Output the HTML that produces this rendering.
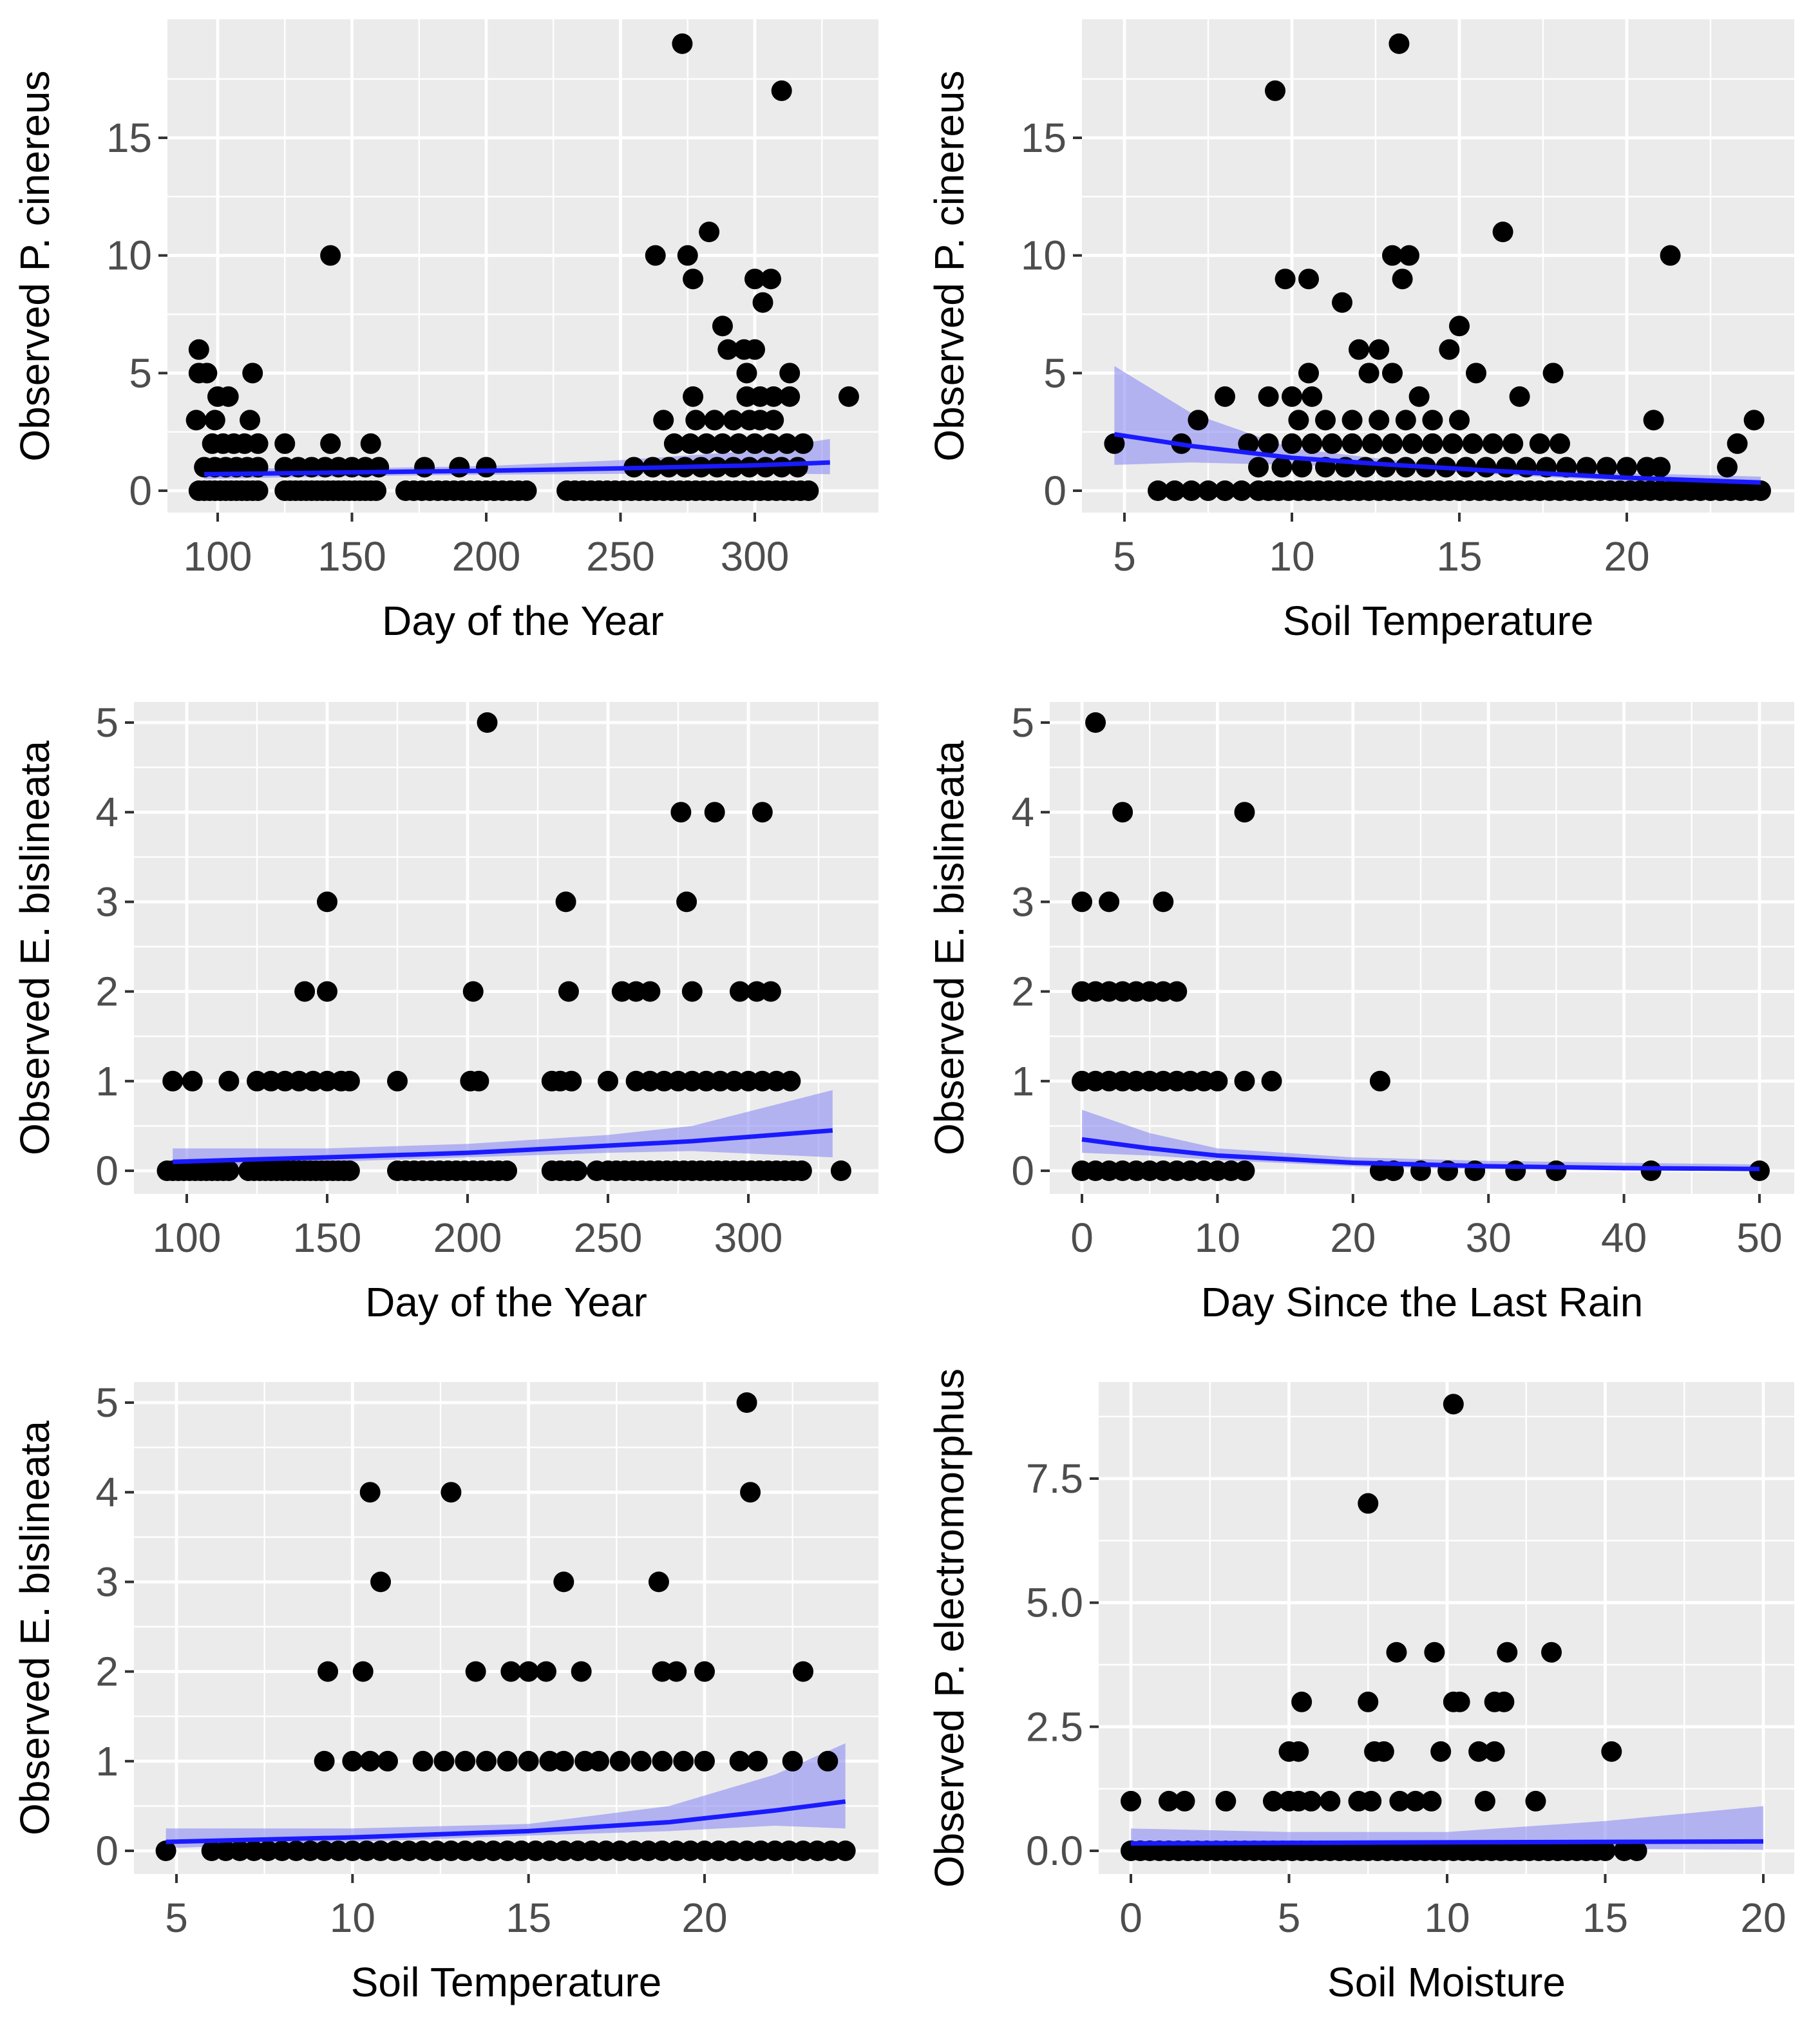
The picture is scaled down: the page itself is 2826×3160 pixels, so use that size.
<!DOCTYPE html>
<html><head><meta charset="utf-8"><style>
html,body{margin:0;padding:0;background:#fff;}
svg{display:block;font-family:"Liberation Sans",sans-serif;}
</style></head><body>
<svg id="chart" width="2826" height="3160" viewBox="0 0 1413 1580" xmlns="http://www.w3.org/2000/svg"></svg>
<script>
// ---- Panel 1: Day of year vs P. cinereus ----
const p1X = [93,95,97,99,101,103,105,107,109,111,113,115,125,127,129,131,133,135,137,139,141,143,145,147,149,151,153,155,157,159,170,173,176,179,182,185,188,191,194,197,200,203,206,209,212,215,230,233,236,239,242,245,248,251,254,257,260,263,266,269,272,275,278,281,284,287,290,293,296,299,302,305,308,311,314,317,320,
 95,99,103,107,111,115,125,130,135,140,145,150,155,160,177,190,200,255,262,268,274,280,286,292,298,304,310,316,
 98,102,106,110,115,125,142,157,270,276,282,288,294,300,306,312,318,
 92,99,112,266,278,285,292,298,302,307,
 100,104,277,297,302,307,313,335,
 93,96,113,297,313,
 93,290,296,300,
 288,303,
 277,300,306,
 263,275,142,
 283,273,310];
const p1Y = [0,0,0,0,0,0,0,0,0,0,0,0,0,0,0,0,0,0,0,0,0,0,0,0,0,0,0,0,0,0,0,0,0,0,0,0,0,0,0,0,0,0,0,0,0,0,0,0,0,0,0,0,0,0,0,0,0,0,0,0,0,0,0,0,0,0,0,0,0,0,0,0,0,0,0,0,0,
 1,1,1,1,1,1,1,1,1,1,1,1,1,1,1,1,1,1,1,1,1,1,1,1,1,1,1,1,
 2,2,2,2,2,2,2,2,2,2,2,2,2,2,2,2,2,
 3,3,3,3,3,3,3,3,3,3,
 4,4,4,4,4,4,4,4,
 5,5,5,5,5,
 6,6,6,6,
 7,8,
 9,9,9,
 10,10,10,
 11,19,17];
const p1FitX = [95,150,200,250,300,328];
const p1Fit = [0.7,0.78,0.85,0.95,1.08,1.2];
const p1Lo = [0.5,0.62,0.68,0.72,0.75,0.7];
const p1Hi = [0.95,0.95,1.05,1.3,1.7,2.2];

// ---- Panel 2: Soil temperature vs P. cinereus ----
const p2X = [6,6.5,7,7.5,8,8.5,9,9.3,9.6,9.9,10.2,10.5,10.8,11.1,11.4,11.7,12,12.3,12.6,12.9,13.2,13.5,13.8,14.1,14.4,14.7,15,15.3,15.6,15.9,16.2,16.5,16.8,17.1,17.4,17.7,18,18.3,18.6,18.9,19.2,19.5,19.8,20.1,20.4,20.7,21,21.3,21.6,21.9,22.2,22.5,22.8,23.1,23.4,23.7,24,
 9,9.7,10.3,11,11.6,12.2,12.8,13.4,14,14.6,15.2,15.8,16.4,17,17.6,18.2,18.8,19.4,20,20.6,21,23,
 9.3,10,10.6,11.2,11.8,12.4,13,13.6,14.2,14.8,15.4,16,16.6,17.4,18,23.3,
 4.7,6.7,8.7,
 10.2,11,11.8,12.6,13.4,14.2,15,20.8,23.8,7.2,
 8,9.3,10,10.6,13.8,16.8,
 10.5,12.3,13,15.5,17.8,
 12,12.6,14.7,
 15,11.5,9.8,10.5,13.3,
 13,13.5,21.3,16.3,9.5,13.2];
const p2Y = [0,0,0,0,0,0,0,0,0,0,0,0,0,0,0,0,0,0,0,0,0,0,0,0,0,0,0,0,0,0,0,0,0,0,0,0,0,0,0,0,0,0,0,0,0,0,0,0,0,0,0,0,0,0,0,0,0,
 1,1,1,1,1,1,1,1,1,1,1,1,1,1,1,1,1,1,1,1,1,1,
 2,2,2,2,2,2,2,2,2,2,2,2,2,2,2,2,
 2,2,2,
 3,3,3,3,3,3,3,3,3,3,
 4,4,4,4,4,4,
 5,5,5,5,5,
 6,6,6,
 7,8,9,9,9,
 10,10,10,11,17,19];
const p2FitX = [4.7,7,10,13,16,20,24];
const p2Fit = [2.4,1.9,1.4,1.1,0.85,0.55,0.35];
const p2Lo = [1.1,1.2,1.1,0.95,0.7,0.4,0.2];
const p2Hi = [5.3,3.3,1.8,1.3,1.0,0.75,0.6];

// ---- Panel 3: Day of year vs E. bislineata ----
const p3X = [93,95,97,99,101,103,105,107,109,111,113,115,122,124,126,128,130,132,134,136,138,140,142,144,146,148,150,152,154,156,158,175,178,181,184,187,190,193,196,199,202,205,208,211,214,230,233,236,239,246,250,253,256,259,262,265,268,271,274,277,280,283,286,289,292,295,298,301,304,307,310,313,316,319,333,
 95,102,115,125,130,135,140,145,150,155,158,175,201,204,230,233,237,250,260,265,270,275,280,285,290,295,300,305,310,315,
 142,150,202,236,255,260,265,280,297,303,308,
 150,235,278,
 276,288,305,
 207];
const p3Y = [0,0,0,0,0,0,0,0,0,0,0,0,0,0,0,0,0,0,0,0,0,0,0,0,0,0,0,0,0,0,0,0,0,0,0,0,0,0,0,0,0,0,0,0,0,0,0,0,0,0,0,0,0,0,0,0,0,0,0,0,0,0,0,0,0,0,0,0,0,0,0,0,0,0,0,
 1,1,1,1,1,1,1,1,1,1,1,1,1,1,1,1,1,1,1,1,1,1,1,1,1,1,1,1,1,1,
 2,2,2,2,2,2,2,2,2,2,2,
 3,3,3,
 4,4,4,
 5];
const p3FitX = [95,150,200,250,280,330];
const p3Fit = [0.1,0.15,0.2,0.28,0.33,0.45];
const p3Lo = [0.03,0.1,0.15,0.2,0.22,0.15];
const p3Hi = [0.25,0.25,0.3,0.4,0.5,0.9];

// ---- Panel 4: Days since last rain vs E. bislineata ----
const p4X = [0,1,2,3,4,5,6,7,8,9,10,11,12,22,23,25,27,29,32,35,42,50,
 0,1,2,3,4,5,6,7,8,9,10,12,14,22,
 0,1,2,3,4,5,6,7,
 0,2,6,
 3,12,
 1];
const p4Y = [0,0,0,0,0,0,0,0,0,0,0,0,0,0,0,0,0,0,0,0,0,0,
 1,1,1,1,1,1,1,1,1,1,1,1,1,1,
 2,2,2,2,2,2,2,2,
 3,3,3,
 4,4,
 5];
const p4FitX = [0,5,10,20,30,40,50];
const p4Fit = [0.35,0.25,0.17,0.09,0.05,0.03,0.02];
const p4Lo = [0.2,0.17,0.12,0.05,0.02,0.01,0.0];
const p4Hi = [0.68,0.42,0.25,0.15,0.11,0.09,0.07];

// ---- Panel 5: Soil temperature vs E. bislineata ----
const p5X = [4.7,6,6.4,6.8,7.2,7.6,8,8.4,8.8,9.2,9.6,10,10.4,10.8,11.2,11.6,12,12.4,12.8,13.2,13.6,14,14.4,14.8,15.2,15.6,16,16.4,16.8,17.2,17.6,18,18.4,18.8,19.2,19.6,20,20.4,20.8,21.2,21.6,22,22.4,22.8,23.2,23.6,24,
 9.2,10,10.5,11,12,12.6,13.2,13.8,14.4,15,15.6,16,16.6,17,17.6,18.2,18.8,19.4,20,21,21.5,22.5,23.5,
 9.3,10.3,13.5,14.5,15,15.5,16.5,18.8,19.2,20,22.8,
 10.8,16,18.7,
 10.5,12.8,21.3,
 21.2];
const p5Y = [0,0,0,0,0,0,0,0,0,0,0,0,0,0,0,0,0,0,0,0,0,0,0,0,0,0,0,0,0,0,0,0,0,0,0,0,0,0,0,0,0,0,0,0,0,0,0,
 1,1,1,1,1,1,1,1,1,1,1,1,1,1,1,1,1,1,1,1,1,1,1,
 2,2,2,2,2,2,2,2,2,2,2,
 3,3,3,
 4,4,4,
 5];
const p5FitX = [4.7,10,15,19,22,24];
const p5Fit = [0.1,0.15,0.22,0.32,0.45,0.55];
const p5Lo = [0.03,0.1,0.17,0.22,0.28,0.25];
const p5Hi = [0.25,0.25,0.3,0.5,0.85,1.2];

// ---- Panel 6: Soil moisture vs P. electromorphus ----
const p6X = [0,0.3,0.6,0.9,1.2,1.5,1.8,2.1,2.4,2.7,3,3.3,3.6,3.9,4.2,4.5,4.8,5.1,5.4,5.7,6,6.3,6.6,6.9,7.2,7.5,7.8,8.1,8.4,8.7,9,9.3,9.6,9.9,10.2,10.5,10.8,11.1,11.4,11.7,12,12.3,12.6,12.9,13.2,13.5,13.8,14.1,14.4,14.7,15,15.6,16,
 0,1.2,1.7,3,4.5,5,5.3,5.7,6.3,7.2,7.6,8.5,9,9.5,11.2,12.8,
 5,5.3,7.7,8,9.8,11,11.5,15.2,
 5.4,7.5,10.2,10.4,11.5,11.8,
 8.4,9.6,11.9,13.3,
 7.5,10.2];
const p6Y = [0,0,0,0,0,0,0,0,0,0,0,0,0,0,0,0,0,0,0,0,0,0,0,0,0,0,0,0,0,0,0,0,0,0,0,0,0,0,0,0,0,0,0,0,0,0,0,0,0,0,0,0,0,
 1,1,1,1,1,1,1,1,1,1,1,1,1,1,1,1,
 2,2,2,2,2,2,2,2,
 3,3,3,3,3,3,
 4,4,4,4,
 7,9];
const p6FitX = [0,5,10,15,20];
const p6Fit = [0.15,0.16,0.17,0.18,0.19];
const p6Lo = [0.02,0.05,0.05,0.04,0.02];
const p6Hi = [0.45,0.38,0.38,0.6,0.9];

const panels = [
 {id:'p1', xs:p1X, ys:p1Y, fx:p1FitX, f:p1Fit, lo:p1Lo, hi:p1Hi, L:130,R:682,T:15,B:398, x0:100,px0:169,x1:300,px1:586, y0:0,py0:381,y1:15,py1:107,
  xt:[100,150,200,250,300], xm:[125,175,225,275,325], yt:[0,5,10,15], ym:[2.5,7.5,12.5,17.5], ylab:v=>String(v), xtitle:'Day of the Year', ytitle:'Observed P. cinereus', ytx:28},
 {id:'p2', xs:p2X, ys:p2Y, fx:p2FitX, f:p2Fit, lo:p2Lo, hi:p2Hi, L:840,R:1393,T:15,B:398, x0:5,px0:873,x1:20,px1:1263, y0:0,py0:381,y1:15,py1:107,
  xt:[5,10,15,20], xm:[7.5,12.5,17.5,22.5], yt:[0,5,10,15], ym:[2.5,7.5,12.5,17.5], ylab:v=>String(v), xtitle:'Soil Temperature', ytitle:'Observed P. cinereus', ytx:738},
 {id:'p3', xs:p3X, ys:p3Y, fx:p3FitX, f:p3Fit, lo:p3Lo, hi:p3Hi, L:104,R:682,T:545,B:927, x0:100,px0:145,x1:300,px1:581, y0:0,py0:909,y1:5,py1:561,
  xt:[100,150,200,250,300], xm:[125,175,225,275,325], yt:[0,1,2,3,4,5], ym:[0.5,1.5,2.5,3.5,4.5], ylab:v=>String(v), xtitle:'Day of the Year', ytitle:'Observed E. bislineata', ytx:28},
 {id:'p4', xs:p4X, ys:p4Y, fx:p4FitX, f:p4Fit, lo:p4Lo, hi:p4Hi, L:815,R:1393,T:545,B:927, x0:0,px0:840,x1:50,px1:1366, y0:0,py0:909,y1:5,py1:561,
  xt:[0,10,20,30,40,50], xm:[5,15,25,35,45], yt:[0,1,2,3,4,5], ym:[0.5,1.5,2.5,3.5,4.5], ylab:v=>String(v), xtitle:'Day Since the Last Rain', ytitle:'Observed E. bislineata', ytx:738},
 {id:'p5', xs:p5X, ys:p5Y, fx:p5FitX, f:p5Fit, lo:p5Lo, hi:p5Hi, L:104,R:682,T:1073,B:1455, x0:5,px0:137,x1:20,px1:547, y0:0,py0:1437,y1:5,py1:1089,
  xt:[5,10,15,20], xm:[7.5,12.5,17.5,22.5], yt:[0,1,2,3,4,5], ym:[0.5,1.5,2.5,3.5,4.5], ylab:v=>String(v), xtitle:'Soil Temperature', ytitle:'Observed E. bislineata', ytx:28},
 {id:'p6', xs:p6X, ys:p6Y, fx:p6FitX, f:p6Fit, lo:p6Lo, hi:p6Hi, L:853,R:1393,T:1073,B:1455, x0:0,px0:878,x1:20,px1:1369, y0:0,py0:1437,y1:7.5,py1:1148,
  xt:[0,5,10,15,20], xm:[2.5,7.5,12.5,17.5], yt:[0,2.5,5,7.5], ym:[1.25,3.75,6.25,8.75], ylab:v=>v.toFixed(1), xtitle:'Soil Moisture', ytitle:'Observed P. electromorphus', ytx:738}
];

const NS='http://www.w3.org/2000/svg';
const svg=document.getElementById('chart');
function mk(tag, attrs, parent){const e=document.createElementNS(NS,tag);for(const k in attrs)e.setAttribute(k,attrs[k]);(parent||svg).appendChild(e);return e;}

panels.forEach(p=>{
  const sx=v=>p.px0+(v-p.x0)*(p.px1-p.px0)/(p.x1-p.x0);
  const sy=v=>p.py0+(v-p.y0)*(p.py1-p.py0)/(p.y1-p.y0);
  const g=mk('g',{});
  
  
  const bg=mk('rect',{x:p.L,y:p.T,width:p.R-p.L,height:p.B-p.T,fill:'#ebebeb'},g);
  
  
  p.xm.forEach(v=>{const x=sx(v); if(x>p.L&&x<p.R) mk('line',{x1:x,x2:x,y1:p.T,y2:p.B,stroke:'#fff','stroke-width':1.2},g);});
  p.ym.forEach(v=>{const y=sy(v); if(y>p.T&&y<p.B) mk('line',{x1:p.L,x2:p.R,y1:y,y2:y,stroke:'#fff','stroke-width':1.2},g);});
  p.xt.forEach(v=>{const x=sx(v); mk('line',{x1:x,x2:x,y1:p.T,y2:p.B,stroke:'#fff','stroke-width':2.4},g);});
  p.yt.forEach(v=>{const y=sy(v); mk('line',{x1:p.L,x2:p.R,y1:y,y2:y,stroke:'#fff','stroke-width':2.4},g);});
  let d='M'+p.fx.map((v,i)=>sx(v)+','+sy(p.hi[i])).join(' L');
  d+=' L'+p.fx.slice().reverse().map((v,i)=>sx(v)+','+sy(p.lo[p.fx.length-1-i])).join(' L')+' Z';
  const rib=mk('path',{d:d,fill:'#8c8cf5','fill-opacity':0.6,stroke:'none'},g);
  
  
  p.xs.forEach((v,i)=>{
    const c=mk('circle',{cx:sx(v),cy:sy(p.ys[i]),r:8,fill:'#000'},g);
    
    
  });
  const ln=mk('polyline',{points:p.fx.map((v,i)=>sx(v)+','+sy(p.f[i])).join(' '),fill:'none',stroke:'#1a1aff','stroke-width':3.5},g);
  
  
  p.xt.forEach(v=>{const x=sx(v);
    mk('line',{x1:x,x2:x,y1:p.B,y2:p.B+7,stroke:'#333','stroke-width':2},g);
    const t=mk('text',{x:x,y:p.B+45,'text-anchor':'middle','font-size':32,fill:'#4d4d4d'},g);
    t.textContent=String(v);
    
    
  });
  p.yt.forEach(v=>{const y=sy(v);
    mk('line',{x1:p.L-7,x2:p.L,y1:y,y2:y,stroke:'#333','stroke-width':2},g);
    const t=mk('text',{x:p.L-12,y:y+11,'text-anchor':'end','font-size':32,fill:'#4d4d4d'},g);
    t.textContent=p.ylab(v);
    
    
  });
  const xt=mk('text',{x:(p.L+p.R)/2,y:p.B+95,'text-anchor':'middle','font-size':32,fill:'#000'},g);
  xt.textContent=p.xtitle;
  
  
  const cy=(p.T+p.B)/2;
  const yt=mk('text',{x:p.ytx,y:cy,'text-anchor':'middle','font-size':32,fill:'#000',transform:'rotate(-90 '+(p.ytx)+' '+cy+')',dy:10},g);
  yt.textContent=p.ytitle;
  
  
});
</script>
</body></html>
